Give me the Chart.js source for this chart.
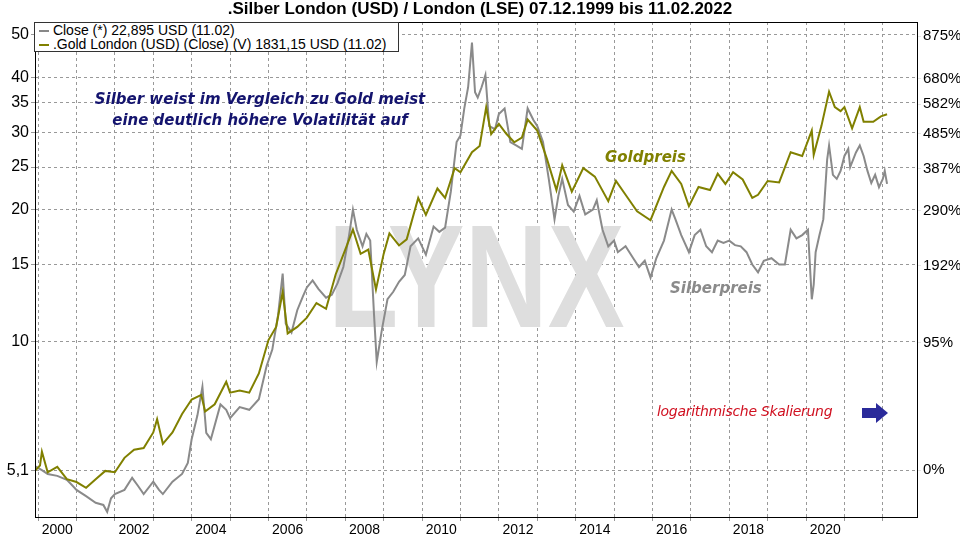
<!DOCTYPE html>
<html><head><meta charset="utf-8">
<script src="https://cdn.jsdelivr.net/npm/chart.js@4"></script>
<style>
body{margin:0;background:#fff;font-family:Arial,"Liberation Sans",sans-serif;}
#wrap{position:relative;width:960px;height:540px;}
canvas{position:absolute;left:0;top:0;}
.t{position:absolute;white-space:nowrap;}
.a{font-family:"DejaVu Sans",Verdana,sans-serif;font-style:italic;font-weight:bold;}
</style></head><body>
<div id="wrap">
<canvas id="c" width="960" height="540"></canvas>
<div class="t" style="left:0;width:960px;top:-1px;text-align:center;font-weight:bold;font-size:17px;">.Silber London (USD) / London (LSE) 07.12.1999 bis 11.02.2022</div>
<div class="t" style="left:34px;top:22px;width:365px;height:30px;border:1px solid #333;background:#fff;font-size:14px;line-height:14px;padding-left:4px;box-sizing:border-box;">
<div><span style="display:inline-block;width:10px;height:2px;background:#888;vertical-align:middle"></span> Close (*) 22,895 USD (11.02)</div>
<div><span style="display:inline-block;width:10px;height:2px;background:#808000;vertical-align:middle"></span> .Gold London (USD) (Close) (V) 1831,15 USD (11.02)</div></div>
<div class="t a" style="left:60px;width:400px;top:89px;text-align:center;font-size:15px;color:#14146e;line-height:21px;">Silber weist im Vergleich zu Gold meist<br>eine deutlich höhere Volatilität auf</div>
<div class="t a" style="left:605px;top:148px;font-size:15px;color:#808000;">Goldpreis</div>
<div class="t a" style="left:670px;top:279px;font-size:15px;color:#8a8a8a;">Silberpreis</div>
<div class="t" style="left:657px;top:403px;font:italic 14px 'DejaVu Sans',sans-serif;color:#d01020;letter-spacing:-0.3px;">logarithmische Skalierung</div>
<div class="t" style="left:862px;top:406px;width:0;height:0;"><div style="position:absolute;left:0;top:2px;width:14px;height:10px;background:#2a2a9a"></div><div style="position:absolute;left:14px;top:-3px;border-left:12px solid #2a2a9a;border-top:10px solid transparent;border-bottom:10px solid transparent;"></div></div>
</div>
<script>
const silverT=[1999.93,2000.1,2000.25,2000.5,2000.75,2000.9,2001.0,2001.25,2001.5,2001.7,2001.8,2001.9,2002.0,2002.25,2002.45,2002.6,2002.75,2003.0,2003.15,2003.25,2003.5,2003.75,2003.9,2004.0,2004.15,2004.28,2004.38,2004.5,2004.75,2004.9,2005.0,2005.25,2005.5,2005.75,2005.95,2006.1,2006.25,2006.37,2006.45,2006.6,2006.75,2006.9,2007.0,2007.15,2007.3,2007.5,2007.65,2007.8,2007.95,2008.1,2008.2,2008.3,2008.45,2008.55,2008.65,2008.75,2008.82,2008.95,2009.1,2009.25,2009.4,2009.55,2009.7,2009.9,2010.1,2010.3,2010.45,2010.6,2010.75,2010.9,2011.0,2011.1,2011.2,2011.3,2011.38,2011.45,2011.55,2011.65,2011.75,2011.9,2012.0,2012.15,2012.3,2012.45,2012.6,2012.75,2012.9,2013.0,2013.15,2013.3,2013.45,2013.55,2013.65,2013.8,2013.95,2014.1,2014.25,2014.45,2014.55,2014.7,2014.85,2015.0,2015.1,2015.3,2015.5,2015.65,2015.8,2015.95,2016.1,2016.3,2016.5,2016.6,2016.75,2016.95,2017.1,2017.25,2017.4,2017.55,2017.7,2017.85,2018.0,2018.15,2018.3,2018.45,2018.6,2018.75,2018.9,2019.1,2019.3,2019.45,2019.6,2019.75,2019.9,2020.05,2020.15,2020.2,2020.25,2020.35,2020.45,2020.55,2020.6,2020.7,2020.8,2020.9,2021.0,2021.1,2021.15,2021.3,2021.4,2021.5,2021.6,2021.7,2021.8,2021.9,2022.0,2022.05,2022.11];
const silverV=[5.2,5.1,5.0,4.95,4.85,4.7,4.6,4.45,4.3,4.25,4.1,4.4,4.5,4.6,4.9,4.7,4.5,4.8,4.6,4.5,4.8,5.0,5.3,6.0,6.8,7.9,6.2,6.0,7.2,7.0,6.7,7.1,7.0,7.4,8.8,9.6,11.5,14.3,11.0,10.5,11.8,12.7,13.3,13.8,13.2,12.6,12.8,13.6,14.8,17.5,20.0,18.0,16.5,17.6,17.0,11.5,9.0,10.6,12.5,13.0,13.7,14.2,16.5,17.2,15.8,18.3,17.8,18.2,22.0,28.5,29.5,34.0,38.0,48.0,37.0,36.0,38.0,40.5,31.0,30.5,33.0,34.0,28.5,28.0,27.5,34.0,32.0,31.0,28.5,23.5,19.0,21.5,23.5,20.5,19.8,21.5,19.5,20.0,21.0,18.0,16.5,17.0,16.0,16.5,15.5,14.8,15.3,14.0,15.5,17.0,20.0,19.0,17.5,16.0,17.5,18.0,16.5,16.0,17.0,16.8,17.0,16.6,16.5,16.0,15.0,14.4,15.3,15.5,15.0,15.0,18.0,17.2,17.5,18.0,12.5,13.5,16.0,17.5,19.0,26.0,28.0,24.0,23.5,24.5,26.5,27.5,25.0,27.0,28.0,26.5,24.5,23.0,24.0,22.5,23.5,24.5,22.9];
const goldT=[1999.93,2000.05,2000.1,2000.25,2000.5,2000.75,2001.0,2001.25,2001.5,2001.75,2002.0,2002.25,2002.5,2002.75,2003.0,2003.1,2003.25,2003.5,2003.75,2004.0,2004.25,2004.35,2004.6,2004.9,2005.0,2005.25,2005.5,2005.75,2006.0,2006.2,2006.37,2006.5,2006.75,2007.0,2007.25,2007.5,2007.75,2008.0,2008.2,2008.4,2008.6,2008.8,2009.0,2009.15,2009.4,2009.6,2009.9,2010.1,2010.4,2010.6,2010.85,2011.0,2011.3,2011.5,2011.67,2011.8,2012.0,2012.2,2012.4,2012.6,2012.75,2013.0,2013.25,2013.5,2013.65,2013.9,2014.2,2014.5,2014.85,2015.05,2015.3,2015.6,2015.95,2016.3,2016.5,2016.75,2016.95,2017.2,2017.5,2017.7,2017.9,2018.1,2018.35,2018.6,2018.75,2019.0,2019.3,2019.6,2019.9,2020.15,2020.2,2020.4,2020.6,2020.75,2020.9,2021.0,2021.2,2021.4,2021.5,2021.75,2021.95,2022.11];
const goldUSD=[283,290,312,280,288,270,266,258,270,282,280,302,315,318,345,370,325,345,380,410,420,385,400,450,425,430,425,470,560,600,720,580,600,630,680,660,790,900,1000,880,900,730,880,980,920,950,1180,1080,1240,1180,1380,1350,1500,1550,1900,1650,1740,1650,1580,1620,1780,1680,1450,1230,1400,1220,1380,1320,1160,1290,1200,1100,1050,1250,1360,1270,1130,1250,1230,1340,1270,1350,1300,1180,1200,1290,1280,1500,1470,1680,1480,1720,2060,1900,1860,1900,1700,1900,1760,1760,1810,1831];
const goldFactor=55.5;
const leftTicks=[50,40,35,30,25,20,15,10,5.1];
const rightTicks=[49.7,39.8,34.8,29.8,24.8,19.9,14.9,9.95,5.1];
const rightLabels=['875%','680%','582%','485%','387%','290%','192%','95%','0%'];
const silver=silverT.map((t,i)=>({x:t,y:silverV[i]}));
const gold=goldT.map((t,i)=>({x:t,y:goldUSD[i]/goldFactor}));
const lynx={id:'lynx',beforeDatasetsDraw(ch){const c=ch.ctx;c.save();c.fillStyle='#dedede';c.font='bold 160px "Liberation Sans", Arial, sans-serif';c.translate(328,327);c.scale(0.72,0.92);c.fillText('LYNX',0,0);c.restore();}};
const frame={id:'frame',afterDraw(ch){const c=ch.ctx,a=ch.chartArea;c.save();c.strokeStyle='#000';c.lineWidth=1;c.strokeRect(a.left+0.5,a.top+0.5,a.right-a.left,a.bottom-a.top);c.restore();}};
const ymin=3.99,ymax=53.5;
new Chart(document.getElementById('c'),{type:'scatter',
data:{datasets:[
{data:gold,borderColor:'#808000',borderWidth:2,showLine:true,pointRadius:0,yAxisID:'y'},
{data:silver,borderColor:'#8a8a8a',borderWidth:2,showLine:true,pointRadius:0,yAxisID:'y'}]},
options:{responsive:false,animation:false,layout:{padding:{top:22,left:0,right:0,bottom:0}},
plugins:{legend:{display:false},tooltip:{enabled:false}},
scales:{
x:{type:'linear',min:1999.92,max:2022.89,afterFit(s){s.height=23;},
afterBuildTicks(s){const t=[];for(let y=2000;y<=2022;y++){t.push({value:y});t.push({value:y+0.5});}s.ticks=t;},
grid:{color:c=>Number.isInteger(c.tick&&c.tick.value)?'#999':'transparent',tickLength:4},
border:{display:true,color:'#000',dash:[3,3]},
ticks:{maxRotation:0,autoSkip:false,color:'#000',font:{size:14,family:'Arial'},padding:1,callback:v=>(!Number.isInteger(v)&&Math.floor(v)%2===0&&v<2021)?String(Math.floor(v)):''}},
y:{type:'logarithmic',position:'left',min:ymin,max:ymax,afterFit(s){s.width=35;},
afterBuildTicks(s){s.ticks=leftTicks.map(v=>({value:v}));},
grid:{color:'#999',tickLength:4},border:{color:'#000',dash:[3,3]},
ticks:{color:'#000',font:{size:16,family:'Arial'},padding:2,callback:v=>String(v).replace('.',',')}},
y2:{type:'logarithmic',position:'right',min:ymin,max:ymax,afterFit(s){s.width=43;},
afterBuildTicks(s){s.ticks=rightTicks.map(v=>({value:v}));},
grid:{drawOnChartArea:false,tickLength:4},border:{color:'#000'},
ticks:{color:'#000',font:{size:15,family:'Arial'},padding:2,callback:(v,i)=>rightLabels[i]}}
}},plugins:[lynx,frame]});
</script></body></html>
